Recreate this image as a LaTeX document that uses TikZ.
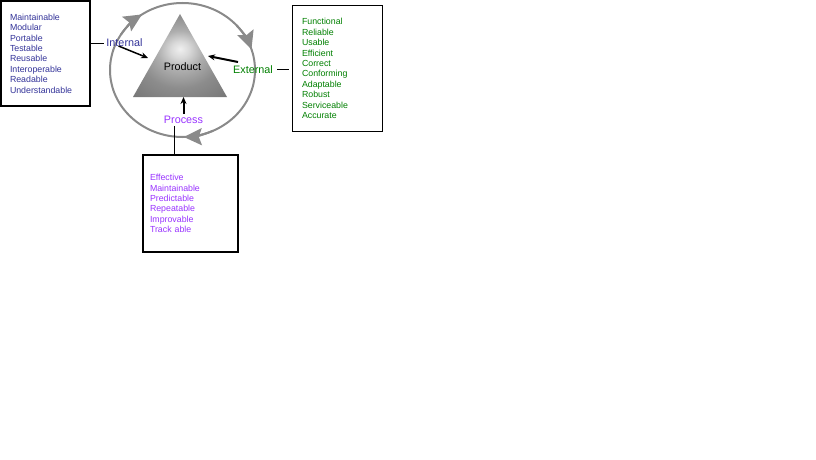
\documentclass[tikz,border=0pt]{standalone}
\usepackage{fontspec}
\setmainfont{Liberation Sans}
\usetikzlibrary{arrows.meta}
\definecolor{intblue}{RGB}{51,51,153}
\definecolor{extgreen}{RGB}{0,128,0}
\definecolor{procpurple}{RGB}{153,51,255}
\definecolor{ringgray}{RGB}{138,138,138}
\pgfdeclareradialshading{pyramid}{\pgfpoint{0bp}{4bp}}{%
  color(0bp)=(black!6); color(5bp)=(black!15); color(12bp)=(black!32); color(22bp)=(black!45); color(35bp)=(black!53); color(50bp)=(black!58)}

\begin{document}
\begin{tikzpicture}[
            x=1pt, y=1pt,
            listbox/.style={draw, anchor=north west, align=left, inner ysep=0pt, font=\fontsize{8.8}{10.4}\selectfont},
            word/.style={font=\fontsize{10.8}{13}\selectfont, inner sep=2pt},
            arrow/.style={-{Stealth[length=7pt, width=6pt]}, line width=2pt},
            ring/.style={ringgray, line width=2pt},
            ringtip/.style={ringgray, line width=2pt, -{Stealth[length=18pt, width=17pt, inset=3pt]}}
        ]
\useasboundingbox (0,0) rectangle (816,-460);
\fill[white] (0,0) rectangle (816,-460);
            \coordinate (hub) at (182.5,-70);
            \draw[ring] (hub) ellipse [x radius=72.5, y radius=67];
\coordinate (apex) at (180,-14);
\coordinate (baseL) at (133,-97);
\coordinate (baseR) at (227,-97);
            \shade[shading=pyramid] (apex) -- (baseL) -- (baseR) -- cycle;
            \draw[ringtip] ([shift={(148:72.5 and 67)}]hub) arc[start angle=148, end angle=124, x radius=72.5, y radius=67];
            \draw[ringtip] ([shift={(42:72.5 and 67)}]hub) arc[start angle=42, end angle=18, x radius=72.5, y radius=67];
            \draw[ringtip] ([shift={(-65:72.5 and 67)}]hub) arc[start angle=-65, end angle=-89, x radius=72.5, y radius=67];
\node[word] (product) at (182.5,-67) {Product};
            \node[word, text=intblue] (internal) at (124.5,-43) {Internal};
            \node[word, text=extgreen] (external) at (253,-69.5) {External};
\node[word, text=procpurple] (process) at (183.5,-120) {Process};
            \coordinate (inTip) at (148,-58);
            \coordinate (exTip) at (208,-56);
\node[listbox, text=intblue, line width=2pt, minimum width=89, minimum height=105, text width=71, inner xsep=9] (internalbox) at (0,0) {Maintainable\\Modular\\Portable\\Testable\\Reusable\\Interoperable\\Readable\\Understandable};
            \node[listbox, text=extgreen, line width=1pt, minimum width=90, minimum height=125, text width=70, inner xsep=10] (externalbox) at (291.5,-5.5) {Functional\\Reliable\\Usable\\Efficient\\Correct\\Conforming\\Adaptable\\Robust\\Serviceable\\Accurate};
            \node[listbox, text=procpurple, line width=2pt, minimum width=95, minimum height=97, text width=81, inner xsep=7] (processbox) at (142,-154) {Effective\\Maintainable\\Predictable\\Repeatable\\Improvable\\Track able};
\draw[arrow, line width=1.5pt] ([shift={(-6,-3)}]internal.center) -- (inTip);
            \draw[arrow] ([shift={(-15,7.5)}]external.center) -- (exTip);
            \draw[arrow] (process.north) -- (process.north |- baseL);
            \draw (internalbox.east |- internal.west) -- (internal.west);
\draw[shorten <=2pt, shorten >=3pt] (external.east) -- (external.east -| externalbox.west);
            \draw ([xshift=-9.5pt]process.south) -- ([xshift=-9.5pt]process.south |- processbox.north);
        \end{tikzpicture}
\end{document}
